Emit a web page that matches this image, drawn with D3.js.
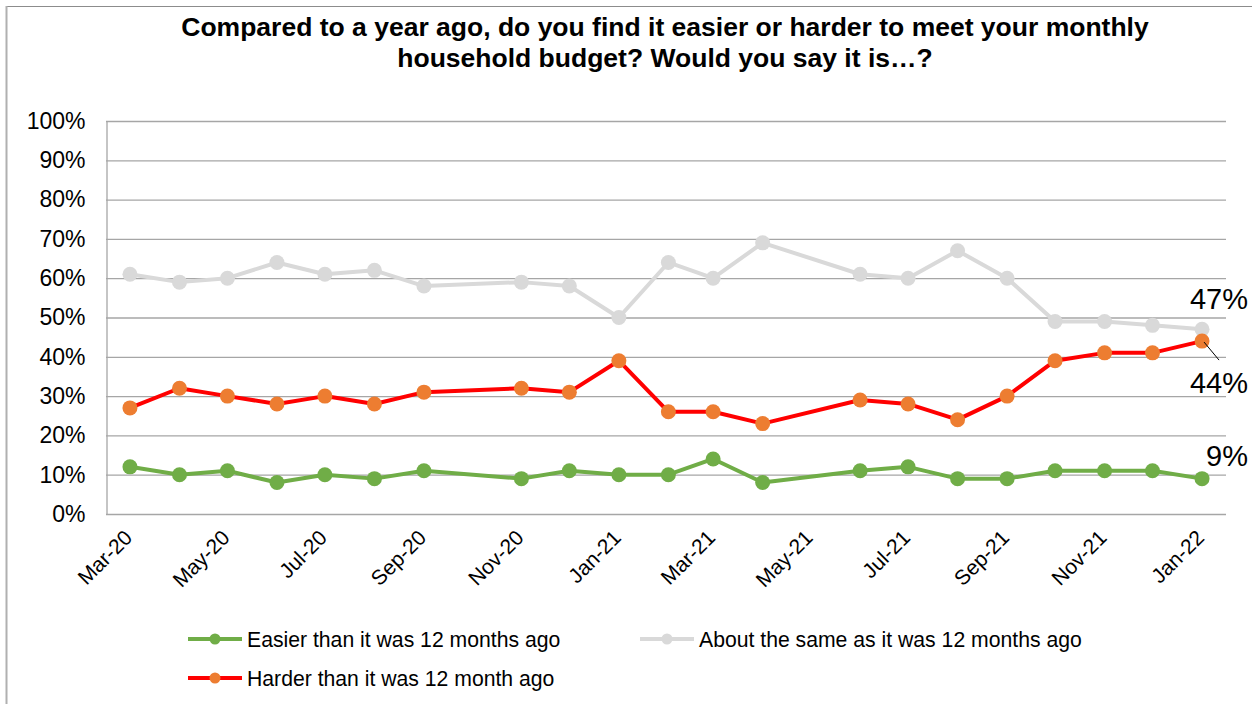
<!DOCTYPE html>
<html>
<head>
<meta charset="utf-8">
<script src="https://cdn.jsdelivr.net/npm/d3@7"></script>
<style>
  body { margin: 0; background: #fff; }
  text { font-family: "Liberation Sans", Arial, sans-serif; }
</style>
</head>
<body>
<svg id="chart" width="1252" height="704"></svg>
<script>
// survey months
const months = ["2020-03","2020-04","2020-05","2020-06","2020-07","2020-08","2020-09",
  "2020-11","2020-12","2021-01","2021-02","2021-03","2021-04","2021-06","2021-07",
  "2021-08","2021-09","2021-10","2021-11","2021-12","2022-01"];

const easier = [12,10,11,8,10,9,11,9,11,10,10,14,8,11,12,9,9,11,11,11,9];
const same   = [61,59,60,64,61,62,58,59,58,50,64,60,69,61,60,67,60,49,49,48,47];
const harder = [27,32,30,28,30,28,31,32,31,39,26,26,23,29,28,24,30,39,41,41,44];

const yTicks = [0,10,20,30,40,50,60,70,80,90,100];

const series = [
  { name: "Easier than it was 12 months ago", values: easier, line: "#70AD47", dot: "#70AD47" },
  { name: "About the same as it was 12 months ago", values: same, line: "#D9D9D9", dot: "#D9D9D9" },
  { name: "Harder than it was 12 month ago", values: harder, line: "#FF0000", dot: "#ED7D31" }
];

const parse = d3.timeParse("%Y-%m");
const dates = months.map(parse);

const svg = d3.select("#chart");
const width = 1252, height = 704;
const margin = { top: 121, right: 26, bottom: 190, left: 106 };

// chart area border (top + left visible)
svg.append("line").attr("x1", 6.5).attr("x2", width).attr("y1", 6.5).attr("y2", 6.5)
  .attr("stroke", "#8c8c8c").attr("stroke-width", 1.2);
svg.append("line").attr("x1", 6.5).attr("x2", 6.5).attr("y1", 6).attr("y2", height)
  .attr("stroke", "#b0b0b0").attr("stroke-width", 2);

// title
const title = svg.append("text")
  .attr("text-anchor", "middle")
  .attr("font-weight", "bold")
  .attr("font-size", 26.5)
  .attr("fill", "#000");
title.append("tspan").attr("x", 665).attr("y", 36)
  .text("Compared to a year ago, do you find it easier or harder to meet your monthly");
title.append("tspan").attr("x", 665).attr("y", 67)
  .text("household budget? Would you say it is…?");

const x = d3.scaleTime()
  .domain([new Date(2020, 1, 15), new Date(2022, 0, 16)])
  .range([margin.left, width - margin.right]);

const y = d3.scaleLinear()
  .domain([0, 100])
  .range([height - margin.bottom, margin.top]);

// gridlines
svg.append("g")
  .selectAll("line")
  .data(yTicks)
  .join("line")
  .attr("x1", margin.left)
  .attr("x2", width - margin.right)
  .attr("y1", d => y(d) + 0.5)
  .attr("y2", d => y(d) + 0.5)
  .attr("stroke", "#a6a6a6")
  .attr("stroke-width", 1.3);

// y axis
const yAxis = g => g
  .attr("transform", `translate(${margin.left + 0.5},0)`)
  .call(d3.axisLeft(y).tickValues(yTicks).tickFormat(d => d + "%").tickSize(0).tickPadding(21))
  .call(g => g.select(".domain").attr("stroke", "#a6a6a6").attr("stroke-width", 1.3))
  .call(g => g.selectAll("text").attr("font-size", 23).attr("fill", "#000")
    .attr("font-family", "Liberation Sans, Arial, sans-serif"));
svg.append("g").call(yAxis);

// x axis
const xAxis = g => g
  .attr("transform", `translate(0,${height - margin.bottom})`)
  .call(d3.axisBottom(x).ticks(d3.timeMonth.every(2)).tickFormat(d3.timeFormat("%b-%y")).tickSize(0))
  .call(g => g.select(".domain").remove())
  .call(g => g.selectAll("text")
    .attr("font-size", 21)
    .attr("fill", "#000")
    .attr("font-family", "Liberation Sans, Arial, sans-serif")
    .attr("text-anchor", "end")
    .attr("dy", 0)
    .attr("y", 0)
    .attr("transform", "translate(3,25) rotate(-45)"));
svg.append("g").call(xAxis);

// lines and markers
const line = d3.line()
  .x((d, i) => x(dates[i]))
  .y(d => y(d));

const order = [1, 2, 0];
order.forEach(k => {
  const s = series[k];
  svg.append("path")
    .datum(s.values)
    .attr("fill", "none")
    .attr("stroke", s.line)
    .attr("stroke-width", 4)
    .attr("stroke-linejoin", "round")
    .attr("d", line);
  svg.append("g")
    .selectAll("circle")
    .data(s.values)
    .join("circle")
    .attr("cx", (d, i) => x(dates[i]))
    .attr("cy", d => y(d))
    .attr("r", 7.5)
    .attr("fill", s.dot);
});

// end labels
const last = dates.length - 1;
const lx = x(dates[last]) + 46;
const labels = [
  { v: same[last], dy: -31 },
  { v: harder[last], dy: 41 },
  { v: easier[last], dy: -23 }
];
svg.append("line")
  .attr("x1", x(dates[last]) + 2).attr("y1", y(harder[last]) + 1)
  .attr("x2", x(dates[last]) + 17).attr("y2", y(harder[last]) + 19)
  .attr("stroke", "#000").attr("stroke-width", 1);
svg.append("g")
  .selectAll("text")
  .data(labels)
  .join("text")
  .attr("x", lx)
  .attr("y", d => y(d.v) + d.dy)
  .attr("dy", "0.36em")
  .attr("text-anchor", "end")
  .attr("font-size", 29)
  .attr("fill", "#000")
  .text(d => d.v + "%");

// legend
const legendPos = [
  { k: 0, x: 188, y: 639 },
  { k: 1, x: 640, y: 639 },
  { k: 2, x: 188, y: 678 }
];
const lg = svg.append("g")
  .selectAll("g")
  .data(legendPos)
  .join("g")
  .attr("transform", d => `translate(${d.x},${d.y})`);
lg.append("line")
  .attr("x1", 0).attr("x2", 54)
  .attr("stroke", d => series[d.k].line)
  .attr("stroke-width", 4);
lg.append("circle")
  .attr("cx", 27).attr("r", 5.5)
  .attr("fill", d => series[d.k].dot);
lg.append("text")
  .attr("x", 59)
  .attr("dy", "0.36em")
  .attr("font-size", 21.2)
  .attr("fill", "#000")
  .text(d => series[d.k].name);
</script>
</body>
</html>
